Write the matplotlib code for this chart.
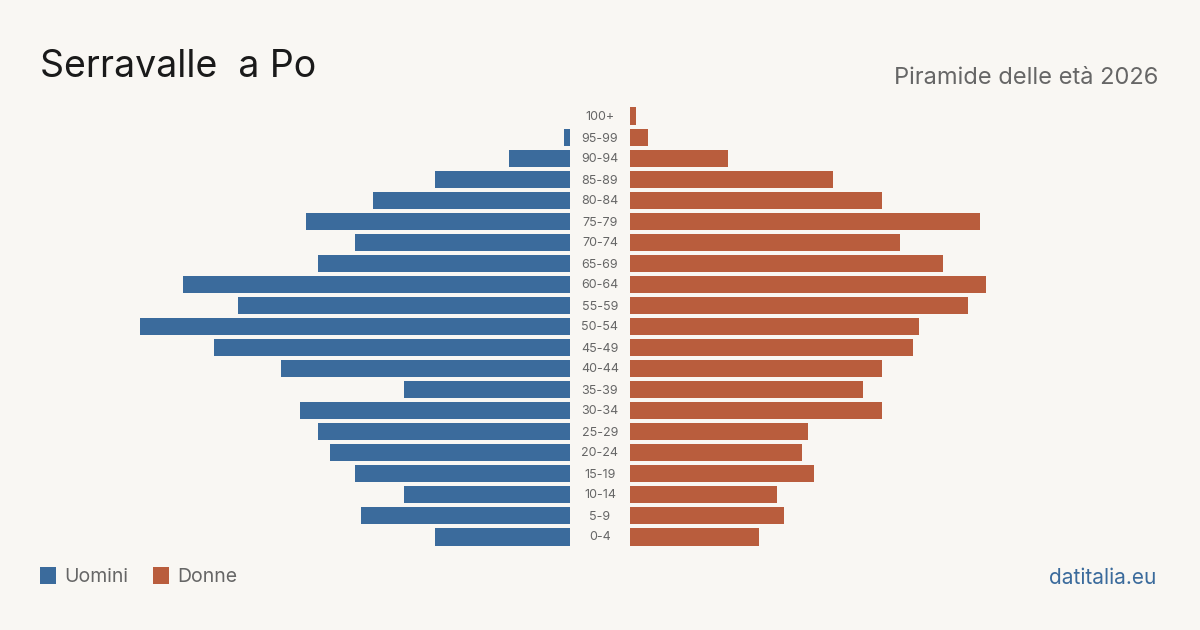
import matplotlib
matplotlib.use("Agg")
import matplotlib.pyplot as plt
from matplotlib.patches import Rectangle

age_groups = ["100+", "95-99", "90-94", "85-89", "80-84", "75-79", "70-74", "65-69",
              "60-64", "55-59", "50-54", "45-49", "40-44", "35-39", "30-34", "25-29",
              "20-24", "15-19", "10-14", "5-9", "0-4"]
uomini = [0, 1, 10, 22, 32, 43, 35, 41, 63, 54, 70, 58, 47, 27, 44, 41, 39, 35, 27, 34, 22]
donne = [1, 3, 16, 33, 41, 57, 44, 51, 58, 55, 47, 46, 41, 38, 41, 29, 28, 30, 24, 25, 21]

title = "Serravalle  a Po"
subtitle = "Piramide delle età 2026"
source = "datitalia.eu"
legend_labels = ["Uomini", "Donne"]

BG = "#f9f7f3"
BLUE = "#3b6b9c"
ORANGE = "#b95d3d"
GRAY = "#666666"
FONT = ["Inter", "DejaVu Sans"]

W, H = 1200, 630
fig = plt.figure(figsize=(W / 100, H / 100), dpi=100, facecolor=BG)

px_per_unit = 430 / 70.0
ax_w = 530
units = ax_w / px_per_unit
top_px, bot_px = 105.5, 547.5
ax_b = 1 - bot_px / H
ax_h = (bot_px - top_px) / H

axL = fig.add_axes([40 / W, ax_b, ax_w / W, ax_h])
axR = fig.add_axes([630 / W, ax_b, ax_w / W, ax_h])

n = len(age_groups)
ypos = list(range(n))
for ax, vals, col in ((axL, uomini, BLUE), (axR, donne, ORANGE)):
    ax.barh(ypos, vals, height=0.81, color=col, linewidth=0)
    ax.set_ylim(n - 0.5, -0.5)
    ax.set_facecolor("none")
    ax.axis("off")
axL.set_xlim(units, 0)
axR.set_xlim(0, units)

for i, lab in enumerate(age_groups):
    y = 1 - (top_px + 12 + 21 * i) / H
    fig.text(600 / W, y, lab, ha="center", va="center", fontsize=9,
             color=GRAY, family=FONT)

fig.text(40 / W, 1 - 67 / H, title, ha="left", va="center", fontsize=27,
         color="#1a1a1a", family=FONT)
fig.text(1158 / W, 1 - 78 / H, subtitle, ha="right", va="center", fontsize=17,
         color=GRAY, family=FONT)

for x0, lab, col in ((40, legend_labels[0], BLUE), (153, legend_labels[1], ORANGE)):
    fig.patches.append(Rectangle((x0 / W, 1 - 584 / H), 16 / W, 17 / H,
                                 transform=fig.transFigure, color=col, linewidth=0))
    fig.text((x0 + 24) / W, 1 - 577.5 / H, lab, ha="left", va="center", fontsize=14,
             color=GRAY, family=FONT)

fig.text(1156 / W, 1 - 577.5 / H, source, ha="right", va="center", fontsize=15,
         color=BLUE, family=FONT)

fig.savefig("out.png", dpi=100, facecolor=BG)
